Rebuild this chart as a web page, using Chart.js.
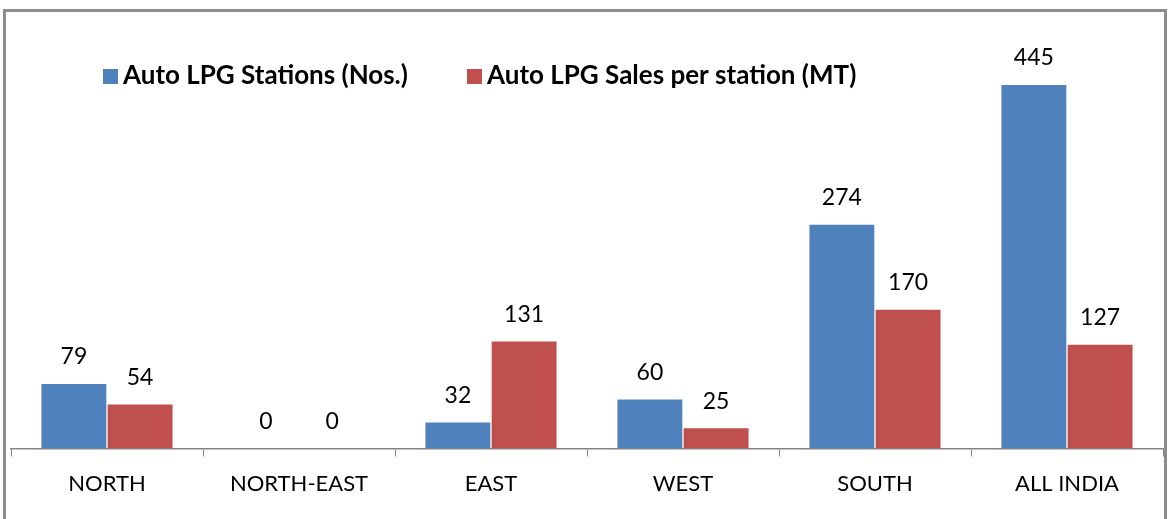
<!DOCTYPE html>
<html><head><meta charset="utf-8">
<script src="https://cdn.jsdelivr.net/npm/chart.js@4/dist/chart.umd.min.js"></script>
<style>
html,body{margin:0;padding:0;background:#fff;}
#wrap{position:relative;width:1168px;height:519px;overflow:hidden;}
#frame{position:absolute;left:3px;top:9px;width:1158px;height:530px;border:3px solid #8c8c8c;box-sizing:content-box;}
canvas{position:absolute;left:0;top:0;}
</style></head><body>
<div id="wrap"><div id="frame"></div><canvas id="c" width="1168" height="519"></canvas></div>
<script>
const categories = ['NORTH','NORTH-EAST','EAST','WEST','SOUTH','ALL INDIA'];
const stations = [79, 0, 32, 60, 274, 445];
const salesPerStation = [54, 0, 131, 25, 170, 127];
const seriesNames = ['Auto LPG Stations (Nos.)','Auto LPG Sales per station (MT)'];
const colors = ['#4F81BD','#C0504D'];
const FONT = 'Lato, "Open Sans", sans-serif';

const valueLabels = {
  id:'valueLabels',
  afterDatasetsDraw(chart){
    const ctx = chart.ctx;
    ctx.save();
    ctx.font = '23px ' + FONT;
    ctx.fillStyle = '#000';
    ctx.textAlign = 'center';
    ctx.textBaseline = 'middle';
    chart.data.datasets.forEach((ds,i)=>{
      chart.getDatasetMeta(i).data.forEach((bar,j)=>{
        ctx.fillText(String(ds.data[j]), bar.x, bar.y - 27);
      });
    });
    ctx.restore();
  }
};
const customLegend = {
  id:'customLegend',
  afterDraw(chart){
    const ctx = chart.ctx;
    ctx.save();
    ctx.font = 'bold 26px ' + FONT;
    ctx.textBaseline = 'middle';
    const y = 76;
    const starts = [103, 467];
    chart.data.datasets.forEach((ds,i)=>{
      const x = starts[i];
      ctx.fillStyle = ds.backgroundColor;
      ctx.fillRect(x, y-7, 15, 15);
      ctx.fillStyle = '#000';
      ctx.fillText(ds.label, x + 20, y);
    });
    ctx.restore();
  }
};

new Chart(document.getElementById('c'), {
  type:'bar',
  data:{
    labels: categories,
    datasets:[
      {label: seriesNames[0], data: stations, backgroundColor: colors[0]},
      {label: seriesNames[1], data: salesPerStation, backgroundColor: colors[1]}
    ]
  },
  options:{
    responsive:false,
    animation:false,
    layout:{padding:{left:11,right:5,top:40,bottom:8}},
    datasets:{bar:{categoryPercentage:0.69,barPercentage:0.98}},
    plugins:{legend:{display:false},tooltip:{enabled:false}},
    scales:{
      x:{
        grid:{display:true,drawOnChartArea:false,drawTicks:true,tickLength:8,color:'#868686',offset:true},
        border:{display:true,color:'#868686',width:1.5},
        ticks:{color:'#000',font:{family:FONT,size:22},padding:14}
      },
      y:{display:false,min:0,max:500}
    }
  },
  plugins:[valueLabels, customLegend]
});
</script>
</body></html>
